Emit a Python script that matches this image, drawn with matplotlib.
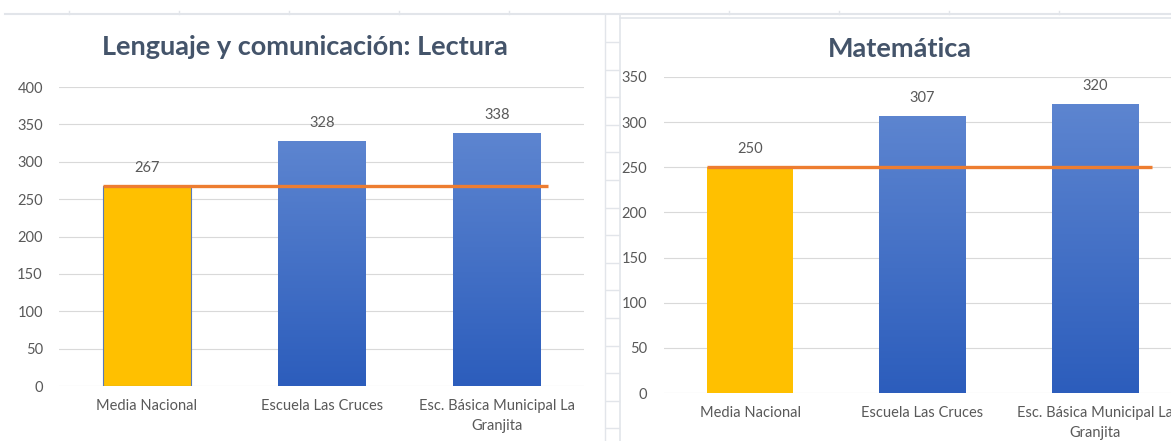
import numpy as np
import matplotlib
matplotlib.use('Agg')
import matplotlib.pyplot as plt
from matplotlib.lines import Line2D
from matplotlib.colors import LinearSegmentedColormap

plt.rcParams['font.family'] = ['Lato', 'DejaVu Sans']

# data
categorias = ['Media Nacional', 'Escuela Las Cruces', 'Esc. Básica Municipal La\nGranjita']
lectura = [267, 328, 338]
matematica = [250, 307, 320]
titulos = ['Lenguaje y comunicación: Lectura', 'Matemática']
ymax = [400, 350]

TITLE_C = '#44546A'
TEXT_C = '#595959'
GRID_C = '#D9D9D9'
YELLOW = '#FFC000'
ORANGE = '#ED7D31'
blue_grad = LinearSegmentedColormap.from_list('bg', ['#2C5DBC', '#5D85D0'])

fig = plt.figure(figsize=(11.71, 4.41), dpi=100)

# spreadsheet background lines (figure coords)
W, H = 1171.0, 441.0
bg = '#E2E5EA'
fig.add_artist(Line2D([5 / W, 1], [1 - 14 / H] * 2, color=bg, lw=1.5))
fig.add_artist(Line2D([620 / W, 1], [1 - 18 / H] * 2, color=bg, lw=1.2))
fig.add_artist(Line2D([605 / W] * 2, [0, 1 - 14 / H], color=bg, lw=1.0))
fig.add_artist(Line2D([620 / W] * 2, [0, 1 - 14 / H], color=bg, lw=1.2))
for cx in [69, 179, 289, 399, 509, 729, 839, 949, 1059]:
    fig.add_artist(Line2D([cx / W] * 2, [1 - 11 / H, 1 - 14 / H], color=bg, lw=1))
for cy in np.arange(42, 441, 27.6):
    fig.add_artist(Line2D([606 / W, 619 / W], [1 - cy / H] * 2, color=bg, lw=1))

ax1 = fig.add_axes([0.0508, 0.1247, 0.4483, 0.678])
ax2 = fig.add_axes([0.567, 0.1088, 0.4415, 0.7166])

def panel(ax, vals, top, yellow_edge, line_span):
    x = np.arange(len(vals))
    bars = ax.bar(x, vals, width=0.5, color='none', zorder=2)
    for i, b in enumerate(bars):
        if i == 0:
            b.set_facecolor(YELLOW)
            if yellow_edge:
                b.set_edgecolor('#5B7BB5')
                b.set_linewidth(0.8)
        else:
            grad = np.linspace(0, 1, 256).reshape(-1, 1)
            im = ax.imshow(grad, cmap=blue_grad, origin='lower', aspect='auto',
                           extent=(b.get_x(), b.get_x() + b.get_width(), 0, b.get_height()),
                           zorder=2)
            im.set_clip_path(b)
        ax.annotate(str(vals[i]), (x[i], vals[i]), xytext=(0, 13),
                    textcoords='offset points', ha='center', va='center',
                    fontsize=10.5, color=TEXT_C)
    # national average line
    ax.plot(line_span, [vals[0], vals[0]], color=ORANGE, lw=2.4, zorder=3,
            solid_capstyle='butt')
    ax.set_xlim(-0.5, len(vals) - 0.5)
    ax.set_ylim(0, top)
    ax.set_yticks(np.arange(0, top + 1, 50))
    ax.set_xticks(x)
    ax.set_xticklabels(categorias, linespacing=1.6)
    ax.tick_params(axis='both', length=0, colors=TEXT_C, labelsize=10.5)
    ax.tick_params(axis='y', pad=12)
    ax.tick_params(axis='x', pad=9)
    ax.grid(axis='y', color=GRID_C, lw=0.8, zorder=0)
    ax.set_axisbelow(True)
    for s in ax.spines.values():
        s.set_visible(False)

panel(ax1, lectura, ymax[0], True, [-0.25, 2.29])
panel(ax2, matematica, ymax[1], False, [-0.25, 2.33])

# chart titles, centred on each chart area
fig.text(305 / W, 1 - 47 / H, titulos[0], ha='center', va='center',
         fontsize=19.5, fontweight='bold', color=TITLE_C)
fig.text(900 / W, 1 - 49 / H, titulos[1], ha='center', va='center',
         fontsize=19.5, fontweight='bold', color=TITLE_C)

plt.savefig('out.png', dpi=100)
